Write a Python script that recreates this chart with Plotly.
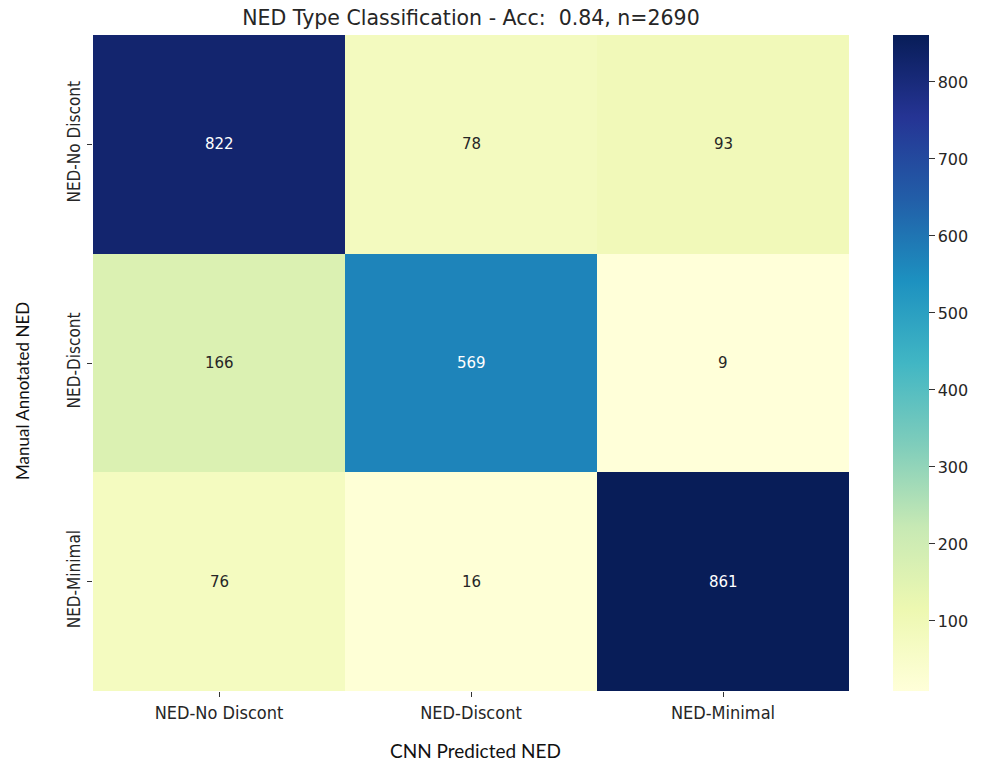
import plotly.graph_objects as go

# Confusion matrix of NED type classification
predicted = ["NED-No Discont", "NED-Discont", "NED-Minimal"]
annotated = ["NED-No Discont", "NED-Discont", "NED-Minimal"]
counts = [
    [822, 78, 93],
    [166, 569, 9],
    [76, 16, 861],
]
colorbar_ticks = [100, 200, 300, 400, 500, 600, 700, 800]

ylgnbu = ["#ffffd9", "#edf8b1", "#c7e9b4", "#7fcdbb", "#41b6c4",
          "#1d91c0", "#225ea8", "#253494", "#081d58"]
scale = [[i / (len(ylgnbu) - 1), c] for i, c in enumerate(ylgnbu)]

zmin = min(min(r) for r in counts)
zmax = max(max(r) for r in counts)
mid = (zmin + zmax) / 2

W, H = 988, 764
L, R, T, B = 93, 139, 35, 73

xtick_font = dict(family="DejaVu Sans Condensed, DejaVu Sans", size=18, color="#262626")
ytick_font = dict(family="DejaVu Sans Condensed, DejaVu Sans", size=17, color="#262626")

fig = go.Figure(go.Heatmap(
    z=counts, x=predicted, y=annotated,
    colorscale=scale, zmin=zmin, zmax=zmax,
    showscale=True,
    colorbar=dict(
        x=1.058, xanchor="left", xpad=0, ypad=0,
        y=0.5, len=1, lenmode="fraction", thickness=36,
        outlinewidth=0,
        tickvals=colorbar_ticks, ticks="outside", ticklen=6,
        tickcolor="#333", tickwidth=1,
        tickfont=dict(family="DejaVu Sans", size=16, color="#262626"),
    ),
    hoverinfo="skip",
))

for i, row in enumerate(counts):
    for j, v in enumerate(row):
        fig.add_annotation(
            x=predicted[j], y=annotated[i], text=str(v), showarrow=False,
            font=dict(family="DejaVu Sans", size=15,
                      color="white" if v > mid else "#262626"),
        )

# Axis titles
fig.add_annotation(text="CNN Predicted NED", xref="paper", yref="paper",
                   x=(475 - L) / (W - L - R), y=-(750 - (H - B)) / (H - T - B),
                   xanchor="center", yanchor="middle", showarrow=False,
                   font=dict(family="Lato, Open Sans", size=19, color="#111"))
fig.add_annotation(text="Manual Annotated NED", xref="paper", yref="paper",
                   x=-(L - 22) / (W - L - R), y=1 - (391 - T) / (H - T - B),
                   xanchor="center", yanchor="middle", textangle=-90,
                   showarrow=False,
                   font=dict(family="Lato, Open Sans", size=17, color="#111"))

fig.update_layout(
    width=W, height=H,
    margin=dict(l=L, r=R, t=T, b=B),
    paper_bgcolor="white", plot_bgcolor="white",
    title=dict(text="NED Type Classification - Acc:  0.84, n=2690",
               x=(L + (W - L - R) / 2) / W, xanchor="center", y=1 - 18 / H, yanchor="middle",
               font=dict(family="DejaVu Sans", size=20.5, color="#262626")),
    xaxis=dict(
        ticks="outside", ticklen=5, tickcolor="#333",
        tickfont=xtick_font,
        showgrid=False, zeroline=False, showline=False,
    ),
    yaxis=dict(
        autorange="reversed",
        ticks="outside", ticklen=5, tickcolor="#333", tickangle=-90,
        tickfont=ytick_font,
        showgrid=False, zeroline=False, showline=False,
    ),
)

fig.write_html("out.html")
